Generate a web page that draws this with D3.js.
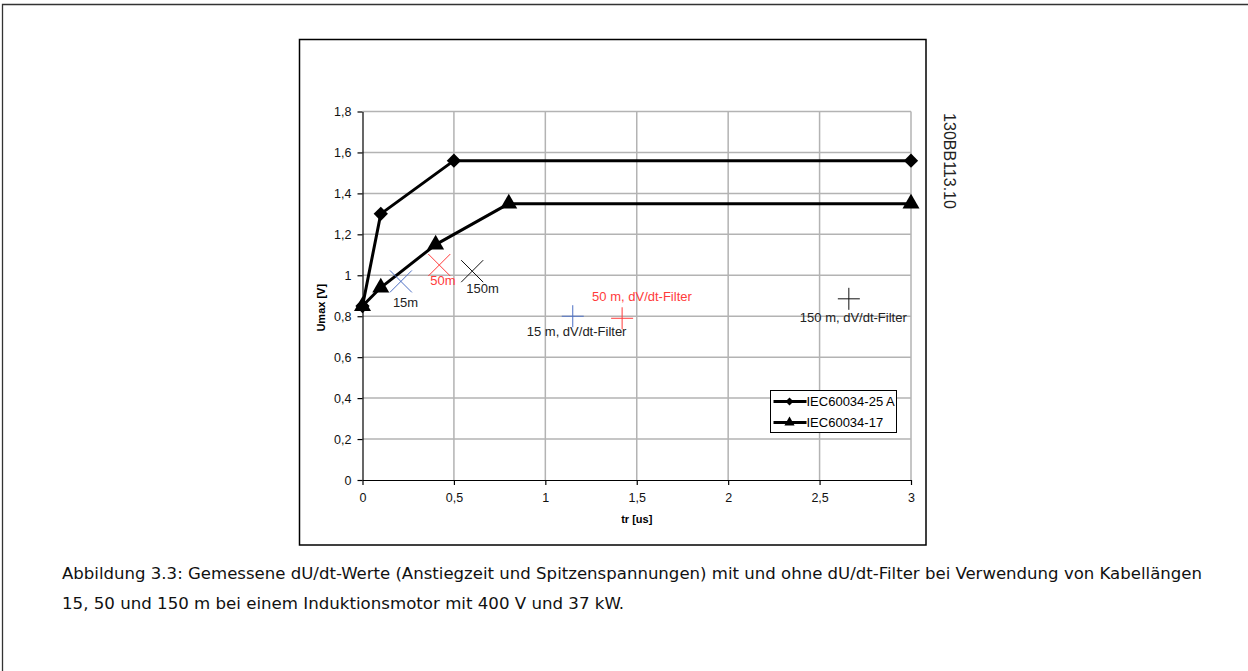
<!DOCTYPE html>
<html>
<head>
<meta charset="utf-8">
<script src="https://cdn.jsdelivr.net/npm/d3@7"></script>
<style>
  html, body { margin: 0; padding: 0; background: #fff; }
  svg { display: block; }
</style>
</head>
<body>
<script>
// --- data ---
const xTicks = [0, 0.5, 1, 1.5, 2, 2.5, 3];
const yTicks = [0, 0.2, 0.4, 0.6, 0.8, 1, 1.2, 1.4, 1.6, 1.8];

const iec25Name = "IEC60034-25 A";
const iec25X = [0, 0.1, 0.5, 3];
const iec25Y = [0.85, 1.3, 1.56, 1.56];

const iec17Name = "IEC60034-17";
const iec17X = [0, 0.1, 0.4, 0.8, 3];
const iec17Y = [0.85, 0.94, 1.15, 1.35, 1.35];

// measurements without filter (drawn as x)
const cableLabels = ["15m", "50m", "150m"];
const cableX = [0.21, 0.42, 0.6];
const cableY = [0.97, 1.05, 1.02];

// measurements with dV/dt filter (drawn as +)
const filterLabels = ["15 m, dV/dt-Filter", "50 m, dV/dt-Filter", "150 m, dV/dt-Filter"];
const filterX = [1.15, 1.42, 2.66];
const filterY = [0.8, 0.79, 0.885];

const markColors = ["#4d6fc4", "#ff3b3b", "#111111"];
const labelColors = ["#222222", "#ff3b3b", "#222222"];

const caption1 = "Abbildung 3.3: Gemessene dU/dt-Werte (Anstiegzeit und Spitzenspannungen) mit und ohne dU/dt-Filter bei Verwendung von Kabellängen";
const caption2 = "15, 50 und 150 m bei einem Induktionsmotor mit 400 V und 37 kW.";

// --- layout ---
const W = 1248, H = 671;
const plot = { left: 362.5, right: 911, top: 111.5, bottom: 480 };
const FONT = '"Liberation Sans", Arial, sans-serif';
const fmt = (v) => String(v).replace(".", ",");

const svg = d3.select("body").append("svg")
  .attr("width", W).attr("height", H)
  .style("font-family", FONT);

// page frame (top + left rule)
svg.append("path")
  .attr("d", `M2.5,${H} V4.5 H${W}`)
  .attr("fill", "none").attr("stroke", "#333").attr("stroke-width", 1.3);

// chart box
svg.append("rect")
  .attr("x", 299.5).attr("y", 39.5).attr("width", 626.5).attr("height", 505.5)
  .attr("fill", "#fff").attr("stroke", "#000").attr("stroke-width", 1.5);

const x = d3.scaleLinear().domain([0, 3]).range([plot.left, plot.right]);
const y = d3.scaleLinear().domain([0, 1.8]).range([plot.bottom, plot.top]);

// grid
const grid = svg.append("g").attr("stroke", "#b3b3b3").attr("stroke-width", 1.5);
grid.selectAll("line.gx").data(xTicks.slice(1)).join("line")
  .attr("x1", (d) => x(d)).attr("x2", (d) => x(d))
  .attr("y1", plot.top).attr("y2", plot.bottom);
grid.selectAll("line.gy").data(yTicks.slice(1)).join("line")
  .attr("x1", plot.left).attr("x2", plot.right)
  .attr("y1", (d) => y(d)).attr("y2", (d) => y(d));

// axes
const xAxis = svg.append("g")
  .attr("transform", `translate(0,${plot.bottom})`)
  .call(d3.axisBottom(x).tickValues(xTicks).tickFormat(fmt).tickSize(5).tickPadding(8).tickSizeOuter(0));
const yAxis = svg.append("g")
  .attr("transform", `translate(${plot.left},0)`)
  .call(d3.axisLeft(y).tickValues(yTicks).tickFormat(fmt).tickSize(5).tickPadding(6).tickSizeOuter(0));
[xAxis, yAxis].forEach((g) => {
  g.selectAll("path,line").attr("stroke", "#000").attr("stroke-width", 1.2);
  g.selectAll("text").attr("fill", "#111").attr("font-size", 12.5).style("font-family", FONT);
});

// axis titles
svg.append("text")
  .attr("x", (plot.left + plot.right) / 2).attr("y", 523)
  .attr("text-anchor", "middle").attr("font-size", 11).attr("font-weight", 700)
  .text("tr [us]");
svg.append("text")
  .attr("transform", `translate(325,${(plot.top + plot.bottom) / 2 + 12}) rotate(-90)`)
  .attr("text-anchor", "middle").attr("font-size", 11).attr("font-weight", 700)
  .text("Umax [V]");

// series lines
const line = d3.line().x((d) => x(d[0])).y((d) => y(d[1]));
const series = [
  { name: iec25Name, pts: d3.zip(iec25X, iec25Y), sym: d3.symbolDiamond2, size: 130, legSize: 40 },
  { name: iec17Name, pts: d3.zip(iec17X, iec17Y), sym: d3.symbolTriangle, size: 125, legSize: 45 },
];
series.forEach((s) => {
  svg.append("path").datum(s.pts)
    .attr("d", line).attr("fill", "none")
    .attr("stroke", "#000").attr("stroke-width", 3).attr("stroke-linejoin", "round");
});
series.forEach((s) => {
  svg.append("g").selectAll("path").data(s.pts).join("path")
    .attr("transform", (d) => `translate(${x(d[0])},${y(d[1])})`)
    .attr("d", d3.symbol(s.sym, s.size)).attr("fill", "#000");
});

// x markers (no filter)
const cross = (g, r) => g.attr("d", `M${-r},${-r}L${r},${r}M${-r},${r}L${r},${-r}`);
svg.append("g").selectAll("path").data(cableX).join("path")
  .attr("transform", (d, i) => `translate(${x(d)},${y(cableY[i])})`)
  .call(cross, 11)
  .attr("fill", "none").attr("stroke", (d, i) => markColors[i]).attr("stroke-width", 1);
svg.append("g").selectAll("text").data(cableLabels).join("text")
  .attr("x", (d, i) => x(cableX[i]) + [-8, -9, -6][i])
  .attr("y", (d, i) => y(cableY[i]) + [26, 20, 22][i])
  .attr("font-size", 13).attr("fill", (d, i) => labelColors[i])
  .text((d) => d);

// + markers (with filter)
const plus = (g, r) => g.attr("d", `M${-r},0H${r}M0,${-r}V${r}`);
svg.append("g").selectAll("path").data(filterX).join("path")
  .attr("transform", (d, i) => `translate(${x(d)},${y(filterY[i])})`)
  .call(plus, 11)
  .attr("fill", "none").attr("stroke", (d, i) => markColors[i]).attr("stroke-width", 1);
svg.append("g").selectAll("text").data(filterLabels).join("text")
  .attr("x", (d, i) => x(filterX[i]) + [-46, -30, -49][i])
  .attr("y", (d, i) => y(filterY[i]) + [20, -17, 23][i])
  .attr("font-size", 13).attr("fill", (d, i) => labelColors[i])
  .text((d) => d);

// legend
const leg = svg.append("g").attr("transform", "translate(770.5,390.5)");
leg.append("rect").attr("width", 126).attr("height", 42)
  .attr("fill", "#fff").attr("stroke", "#000").attr("stroke-width", 1);
series.forEach((s, i) => {
  const ly = 11 + i * 21;
  leg.append("line").attr("x1", 3).attr("x2", 36).attr("y1", ly).attr("y2", ly)
    .attr("stroke", "#000").attr("stroke-width", 3);
  leg.append("path").attr("transform", `translate(19,${ly})`)
    .attr("d", d3.symbol(s.sym, s.legSize)).attr("fill", "#000");
  leg.append("text").attr("x", 36).attr("y", ly + 4.5)
    .attr("font-size", 13).attr("fill", "#000").text(s.name);
});

// figure id
svg.append("text")
  .attr("transform", "translate(944,161) rotate(90)")
  .attr("text-anchor", "middle").attr("font-size", 16).attr("fill", "#222")
  .text("130BB113.10");

// caption
const capFont = '"Liberation Sans Narrow", "DejaVu Sans Condensed", "Liberation Sans", sans-serif';
svg.append("text").attr("x", 62).attr("y", 579)
  .attr("font-size", 15).attr("fill", "#111").style("font-family", capFont)
  .attr("textLength", 1140).attr("lengthAdjust", "spacingAndGlyphs")
  .text(caption1);
svg.append("text").attr("x", 62).attr("y", 609)
  .attr("font-size", 15).attr("fill", "#111").style("font-family", capFont)
  .attr("textLength", 562).attr("lengthAdjust", "spacingAndGlyphs")
  .text(caption2);
</script>
</body>
</html>
